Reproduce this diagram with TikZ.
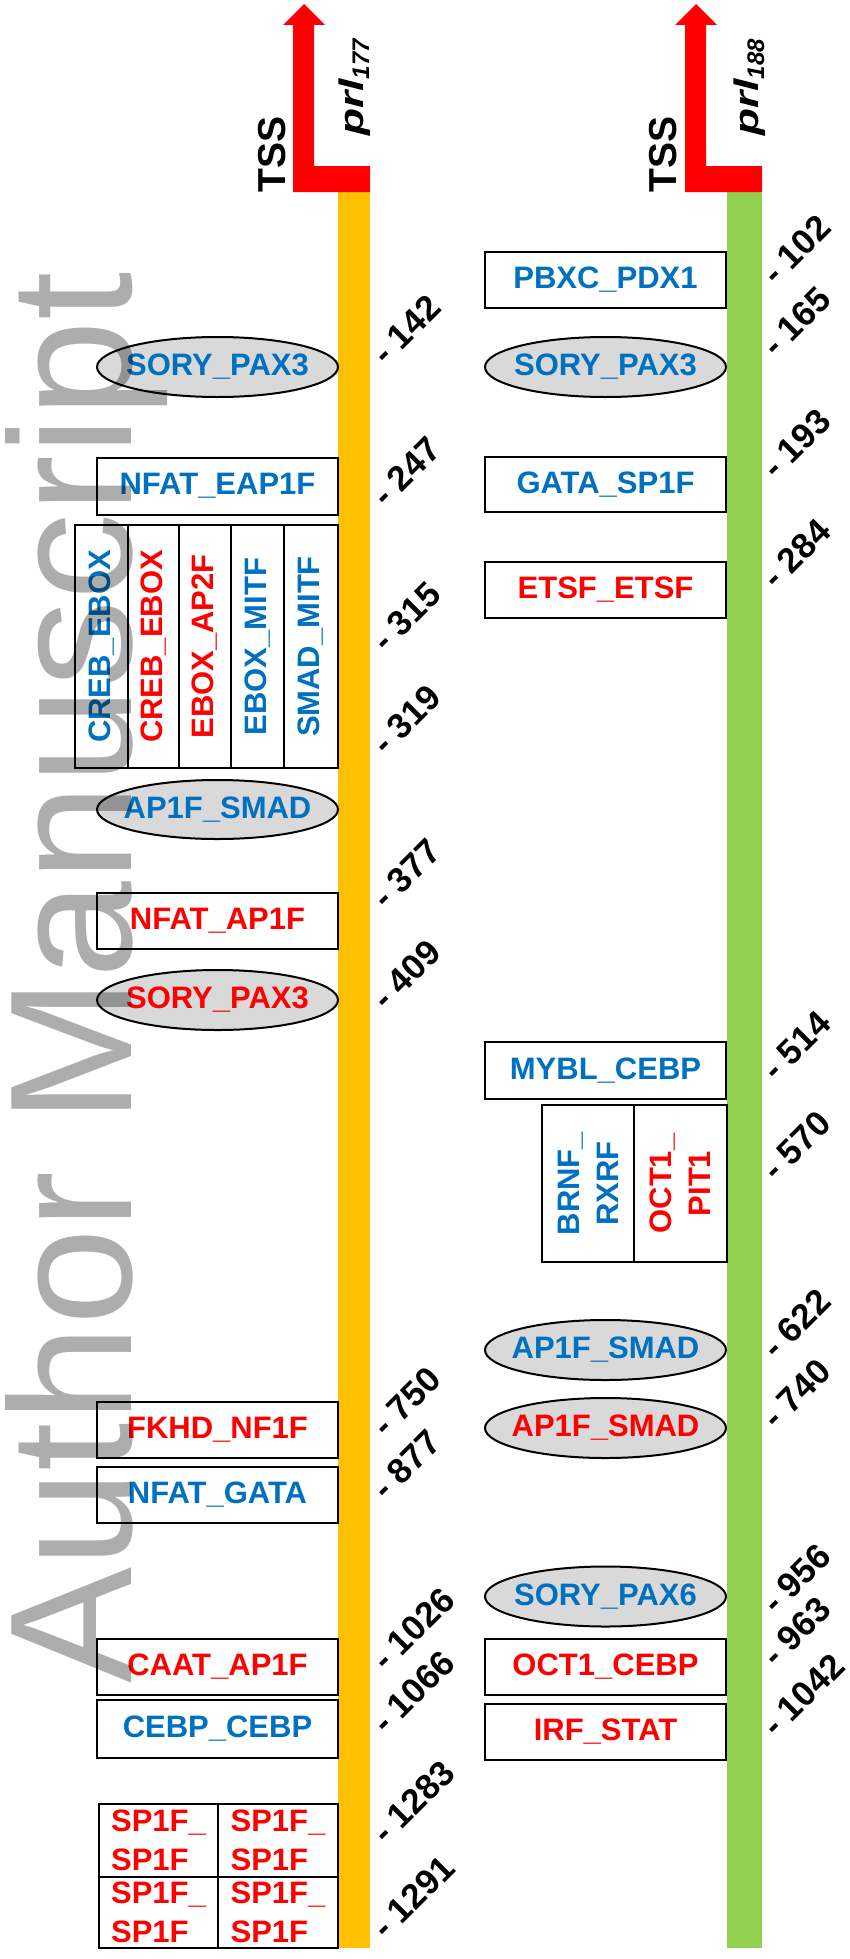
\documentclass[tikz,border=0pt]{standalone}
\usepackage{fontspec}
\usepackage{graphicx}
\setmainfont{Liberation Sans}
\usetikzlibrary{shapes.geometric}
\definecolor{lblue}{HTML}{0070C0}
\definecolor{lred}{HTML}{FF0000}
\definecolor{bargold}{HTML}{FFC000}
\definecolor{bargreen}{HTML}{92D050}
\definecolor{ellgray}{HTML}{D9D9D9}
\begin{document}
\begin{tikzpicture}[x=1pt,y=-1pt,
  lab/.style={font=\fontsize{31}{39}\selectfont\bfseries},
  tfbox/.style={draw, line width=2pt, fill=white, minimum width=241pt, minimum height=56pt, inner sep=0pt, lab},
  tfell/.style={ellipse, draw, line width=2pt, fill=ellgray, minimum width=241pt, minimum height=60pt, inner ysep=0pt, inner xsep=-30pt, lab},
  cell/.style={draw, line width=2pt, fill=white, inner sep=0pt, lab},
  posl/.style={font=\fontsize{35}{35}\selectfont\bfseries, rotate=45, anchor=west, inner sep=0pt},
  tss/.style={font=\fontsize{39}{39}\selectfont\bfseries, rotate=90, anchor=base west, inner sep=0pt},
  prl/.style={font=\bfseries\itshape, rotate=90, anchor=base west, inner sep=0pt},
]
\useasboundingbox (0,0) rectangle (849,1959);
% gene bars
\fill[bargold] (338,190) rectangle (370,1948);
\fill[bargreen] (727,190) rectangle (762,1948);
% TSS arrows
\fill[red] (293,192) -- (370,192) -- (370,166) -- (314,166) -- (314,25) -- (325,25) -- (304,4) -- (283,25) -- (293,25) -- cycle;
\fill[red] (685,192) -- (762,192) -- (762,166) -- (706,166) -- (706,25) -- (717,25) -- (696,4) -- (675,25) -- (685,25) -- cycle;
\node[tss] (tssL) at (285,193) {TSS};
\node[tss] (tssR) at (676,193) {TSS};
\node[prl] (prlL) at (363,136) {\scalebox{1.3}[1]{\fontsize{34}{34}\selectfont prl}\raisebox{-6pt}{\fontsize{24}{24}\selectfont 177}};
\node[prl] (prlR) at (758,136) {\scalebox{1.3}[1]{\fontsize{34}{34}\selectfont prl}\raisebox{-6pt}{\fontsize{24}{24}\selectfont 188}};
% left column
\node[tfell, text=lblue] (l1) at (217.5,367) {SORY\_PAX3};
\node[tfbox, minimum height=57pt, text=lblue] (l2) at (217.5,486) {NFAT\_EAP1F};
\node[cell, rotate=90, minimum width=243pt, minimum height=53pt, text=lblue] (c1) at (101.5,646.5) {CREB\_EBOX};
\node[cell, rotate=90, minimum width=243pt, minimum height=51pt, text=lred] (c2) at (153.5,646.5) {CREB\_EBOX};
\node[cell, rotate=90, minimum width=243pt, minimum height=52pt, text=lred] (c3) at (205,646.5) {EBOX\_AP2F};
\node[cell, rotate=90, minimum width=243pt, minimum height=53pt, text=lblue] (c4) at (257.5,646.5) {EBOX\_MITF};
\node[cell, rotate=90, minimum width=243pt, minimum height=54pt, text=lblue] (c5) at (311,646.5) {SMAD\_MITF};
\node[tfell, minimum height=59pt, text=lblue] (l4) at (217.5,809.5) {AP1F\_SMAD};
\node[tfbox, text=lred] (l5) at (217.5,921) {NFAT\_AP1F};
\node[tfell, text=lred] (l6) at (217.5,1000) {SORY\_PAX3};
\node[tfbox, text=lred] (l7) at (217.5,1430) {FKHD\_NF1F};
\node[tfbox, text=lblue] (l8) at (217.5,1495) {NFAT\_GATA};
\node[tfbox, text=lred] (l9) at (217.5,1667) {CAAT\_AP1F};
\node[tfbox, minimum height=58pt, text=lblue] (l10) at (217.5,1729) {CEBP\_CEBP};
\node[cell, minimum width=119pt, minimum height=73pt, text=lred, align=left] (s1) at (158.5,1840.5) {SP1F\_\\SP1F};
\node[cell, minimum width=120pt, minimum height=73pt, text=lred, align=left] (s2) at (278,1840.5) {SP1F\_\\SP1F};
\node[cell, minimum width=119pt, minimum height=71pt, text=lred, align=left] (s3) at (158.5,1912.5) {SP1F\_\\SP1F};
\node[cell, minimum width=120pt, minimum height=71pt, text=lred, align=left] (s4) at (278,1912.5) {SP1F\_\\SP1F};
% right column
\node[tfbox, text=lblue] (r1) at (605.5,280) {PBXC\_PDX1};
\node[tfell, text=lblue] (r2) at (605.5,367) {SORY\_PAX3};
\node[tfbox, minimum height=55pt, text=lblue] (r3) at (605.5,484.5) {GATA\_SP1F};
\node[tfbox, text=lred] (r4) at (605.5,590) {ETSF\_ETSF};
\node[tfbox, minimum height=57pt, text=lblue] (r5) at (605.5,1070.5) {MYBL\_CEBP};
\node[cell, rotate=90, minimum width=157pt, minimum height=92pt, text=lblue, align=center] (g1) at (588,1183.5) {BRNF\_\\RXRF};
\node[cell, rotate=90, minimum width=157pt, minimum height=93pt, text=lred, align=center] (g2) at (680.5,1183.5) {OCT1\_\\PIT1};
\node[tfell, text=lblue] (r7) at (605.5,1350) {AP1F\_SMAD};
\node[tfell, text=lred] (r8) at (605.5,1428) {AP1F\_SMAD};
\node[tfell, text=lblue] (r9) at (605.5,1596.5) {SORY\_PAX6};
\node[tfbox, text=lred] (r10) at (605.5,1667) {OCT1\_CEBP};
\node[tfbox, text=lred] (r11) at (605.5,1731.5) {IRF\_STAT};
% positions, left gene
\node[posl] (p142) at (378,358) {- 142};
\node[posl] (p247) at (378,500) {- 247};
\node[posl] (p315) at (378,645) {- 315};
\node[posl] (p319) at (378,748) {- 319};
\node[posl] (p377) at (378,902) {- 377};
\node[posl] (p409) at (378,1003) {- 409};
\node[posl] (p750) at (378,1430) {- 750};
\node[posl] (p877) at (378,1493) {- 877};
\node[posl] (p1026) at (378,1664) {- 1026};
\node[posl] (p1066) at (378,1727) {- 1066};
\node[posl] (p1283) at (378,1837) {- 1283};
\node[posl] (p1291) at (378,1932) {- 1291};
% positions, right gene
\node[posl] (q102) at (768,278) {- 102};
\node[posl] (q165) at (768,350) {- 165};
\node[posl] (q193) at (768,472) {- 193};
\node[posl] (q284) at (768,582) {- 284};
\node[posl] (q514) at (768,1074) {- 514};
\node[posl] (q570) at (768,1174) {- 570};
\node[posl] (q622) at (768,1352) {- 622};
\node[posl] (q740) at (768,1422) {- 740};
\node[posl] (q956) at (768,1607) {- 956};
\node[posl] (q963) at (768,1660) {- 963};
\node[posl] (q1042) at (768,1730) {- 1042};
% watermark
\node[rotate=90, anchor=base west, inner sep=0pt, text=black, opacity=0.32, font=\fontsize{174}{174}\selectfont] (wm) at (131,1684) {Author Manuscript};
\end{tikzpicture}
\end{document}
